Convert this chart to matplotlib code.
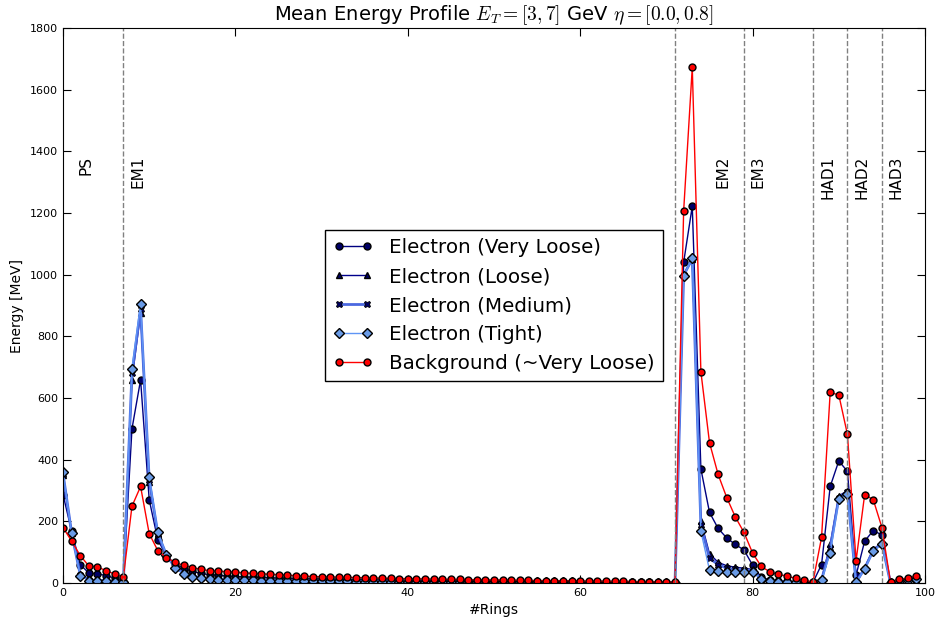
import numpy as np
import matplotlib
matplotlib.use('Agg')
import matplotlib.pyplot as plt

plt.rcParams['mathtext.fontset'] = 'cm'

# mean energy per ring (MeV), rings 0..99
rings = np.arange(100)

very_loose = [287, 168, 60, 32, 30, 24, 16, 5,
              500, 659, 270, 140, 88, 62, 47, 38, 31, 27,
              25, 23, 21, 20, 19, 18, 17, 16, 15, 14.5,
              14, 13, 12.5, 12, 11.5, 11, 10.5, 10, 9.5, 9,
              8.8, 8.5, 8, 7.8, 7.5, 7.2, 7, 6.8, 6.5, 6.2,
              6, 5.8, 5.5, 5.3, 5, 4.8, 4.6, 4.4, 4.2, 4,
              3.8, 3.6, 3.4, 3.2, 3, 2.8, 2.6, 2.4, 2.2, 2,
              1.8, 1.6, 1.4, 1,
              1040, 1222, 370, 229, 177, 146, 125, 107,
              58, 18, 10, 7, 5, 4, 3, 2,
              60, 313, 396, 362,
              25, 136, 170, 156,
              1, 6, 9, 13]

loose = [350, 163, 30, 12, 10, 8, 6, 3,
         660, 876, 328, 158, 90, 52, 34, 24, 19, 16,
         14, 13, 12, 11.5, 11, 10.5, 10, 9.5, 9, 8.6,
         8.2, 7.8, 7.4, 7, 6.7, 6.4, 6.1, 5.8, 5.5, 5.2,
         5, 4.8, 4.6, 4.4, 4.2, 4, 3.8, 3.6, 3.4, 3.3,
         3.2, 3.1, 3, 2.9, 2.8, 2.7, 2.6, 2.5, 2.4, 2.3,
         2.2, 2.1, 2, 1.9, 1.8, 1.7, 1.6, 1.5, 1.4, 1.3,
         1.2, 1.1, 1, 0.8,
         1000, 1050, 200, 95, 67, 56, 51, 48,
         44, 14, 7, 5, 4, 3, 2, 1,
         12, 125, 282, 300,
         3, 50, 110, 130,
         0.5, 6, 11, 14]

medium = [355, 162, 27, 10, 8, 7, 5, 3,
          680, 889, 335, 160, 91, 50, 32, 22, 17, 14,
          12.5, 11.5, 11, 10.5, 10, 9.5, 9, 8.5, 8.1, 7.7,
          7.3, 7, 6.6, 6.3, 6, 5.7, 5.4, 5.1, 4.9, 4.7,
          4.5, 4.3, 4.1, 3.9, 3.7, 3.6, 3.4, 3.3, 3.1, 3,
          2.9, 2.8, 2.7, 2.6, 2.5, 2.4, 2.3, 2.2, 2.1, 2,
          1.9, 1.8, 1.7, 1.6, 1.5, 1.4, 1.3, 1.2, 1.1, 1,
          0.9, 0.8, 0.7, 0.6,
          998, 1052, 188, 80, 60, 48, 44, 42,
          40, 13, 6, 4, 3, 2, 1.5, 1,
          10, 112, 276, 294,
          2.5, 47, 106, 128,
          0.5, 6, 11, 13]

tight = [359, 162, 24, 8, 6, 5, 4, 3,
         694, 905, 344, 164, 92, 48, 30, 20, 15, 12,
         11, 10, 9.5, 9, 8.5, 8, 7.6, 7.2, 6.8, 6.5,
         6.2, 6, 5.7, 5.4, 5.2, 5, 4.8, 4.6, 4.4, 4.2,
         4, 3.9, 3.8, 3.6, 3.5, 3.4, 3.2, 3.1, 3, 2.9,
         2.8, 2.7, 2.6, 2.5, 2.4, 2.3, 2.2, 2.1, 2, 1.9,
         1.8, 1.7, 1.6, 1.5, 1.4, 1.3, 1.2, 1.1, 1, 0.9,
         0.8, 0.7, 0.6, 0.5,
         995, 1055, 168, 42, 40, 36, 37, 37,
         37, 12, 5, 3, 2, 2, 1, 1,
         9, 97, 271, 288,
         2, 45, 104, 125,
         0, 6, 11, 13]

background = [180, 136, 89, 55, 52, 40, 29, 18,
              249, 313, 160, 105, 82, 67, 57, 50, 44, 40,
              38, 37, 35, 33, 31, 30, 28, 27, 25, 24,
              22, 21, 20, 19.5, 19, 18, 17.5, 17, 16, 15.5,
              15, 14.5, 14, 13.5, 13, 12.5, 12, 12, 11.5, 11,
              10.5, 10, 10, 9.5, 9, 9, 8.5, 8, 8, 7.5,
              7, 7, 6.5, 6, 6, 5.5, 5, 5, 4.5, 4,
              4, 3.5, 3, 2,
              1207, 1672, 685, 455, 352, 277, 214, 164,
              97, 54, 36, 28, 22, 15, 9, 3,
              148, 618, 610, 482,
              72, 287, 270, 180,
              2, 12, 16, 22]

layer_bounds = [7, 71, 79, 87, 91, 95]
layer_names = ['PS', 'EM1', 'EM2', 'EM3', 'HAD1', 'HAD2', 'HAD3']
layer_label_x = [2.7, 8.7, 76.6, 80.6, 88.7, 92.7, 96.6]

fig = plt.figure(figsize=(9.39, 6.24), dpi=100)
ax = fig.add_axes([0.0671, 0.0657, 0.918, 0.8894])

ax.plot(rings, very_loose, '-o', color='#000080', mfc='#000066', mec='black',
        ms=5, lw=1, label='Electron (Very Loose)')
ax.plot(rings, loose, '-^', color='#00008b', mfc='#000066', mec='black',
        ms=5, lw=1, label='Electron (Loose)')
ax.plot(rings, medium, '-X', color='#4b68e0', mfc='#000066', mec='black',
        ms=5, lw=2, mew=0.6, label='Electron (Medium)')
ax.plot(rings, tight, '-D', color='#5f95f5', mfc='#6a9be6', mec='black',
        ms=5.5, lw=1, label='Electron (Tight)')
ax.plot(rings, background, '-o', color='red', mfc='red', mec='black',
        ms=5, lw=1, label='Background (~Very Loose)')

for b in layer_bounds:
    ax.axvline(b, color='gray', ls='--', lw=1)

for name, xl in zip(layer_names, layer_label_x):
    ax.text(xl, 1385, name, rotation=90, ha='center', va='top', fontsize=11)

ax.set_xlim(0, 100)
ax.set_ylim(0, 1800)
ax.set_xticks(np.arange(0, 101, 20))
ax.set_yticks(np.arange(0, 1801, 200))
ax.tick_params(direction='in', top=True, right=True, labelsize=8, length=6)

ax.set_xlabel('#Rings', fontsize=10)
ax.set_ylabel('Energy [MeV]', fontsize=10)
ax.set_title(r'Mean Energy Profile $E_T = [3,7]$ GeV $\eta = [0.0,0.8]$', fontsize=14)

leg = ax.legend(loc='center', numpoints=2, fontsize=14.3, fancybox=False,
                framealpha=1, edgecolor='black')
leg.get_frame().set_linewidth(1)

fig.savefig('out.png', dpi=100)
